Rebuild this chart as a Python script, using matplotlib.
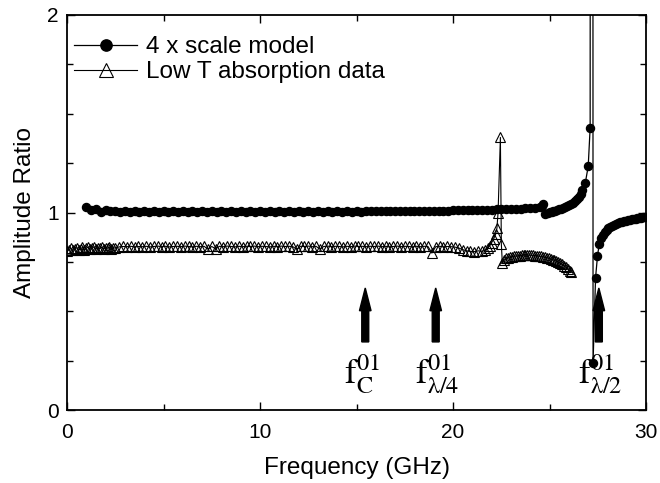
import matplotlib
matplotlib.use("Agg")
import matplotlib.pyplot as plt

plt.rcParams['font.family'] = ['Liberation Sans', 'DejaVu Sans']
plt.rcParams['mathtext.fontset'] = 'stix'

# ---------------- data ----------------
scale_freq = [1.0, 1.25, 1.5, 1.75, 2.0, 2.25, 2.5, 2.75, 3.0, 3.25, 3.5, 3.75, 4.0, 4.25, 4.5, 4.75,
              5.0, 5.25, 5.5, 5.75, 6.0, 6.25, 6.5, 6.75, 7.0, 7.25, 7.5, 7.75, 8.0, 8.25, 8.5, 8.75,
              9.0, 9.25, 9.5, 9.75, 10.0, 10.25, 10.5, 10.75, 11.0, 11.25, 11.5, 11.75, 12.0, 12.25,
              12.5, 12.75, 13.0, 13.25, 13.5, 13.75, 14.0, 14.25, 14.5, 14.75, 15.0, 15.25, 15.5, 15.75,
              16.0, 16.25, 16.5, 16.75, 17.0, 17.25, 17.5, 17.75, 18.0, 18.25, 18.5, 18.75, 19.0, 19.25,
              19.5, 19.75, 20.0, 20.25, 20.5, 20.75, 21.0, 21.25, 21.5, 21.75, 22.0, 22.25, 22.5, 22.75,
              23.0, 23.25, 23.5, 23.75, 24.0, 24.25, 24.5,
              24.6, 24.68, 24.78, 24.9, 25.0, 25.1, 25.2, 25.3, 25.4, 25.5, 25.6, 25.7, 25.8, 25.9, 26.0,
              26.1, 26.2, 26.3, 26.4, 26.5, 26.6, 26.7, 26.85, 27.0, 27.1, 27.17,
              27.25, 27.38, 27.48, 27.57, 27.65, 27.75, 27.85, 27.95, 28.05, 28.15, 28.25, 28.35, 28.45,
              28.55, 28.65, 28.75, 28.85, 28.95, 29.05, 29.15, 29.25, 29.35, 29.45, 29.55, 29.65, 29.75,
              29.85, 29.95]
scale_amp = [1.030, 1.012, 1.020, 1.002, 1.012, 1.006, 1.009, 1.004, 1.007, 1.005, 1.006, 1.004, 1.006,
             1.005, 1.007, 1.004, 1.006, 1.005, 1.006, 1.005, 1.007, 1.004, 1.006, 1.005, 1.006, 1.004,
             1.006, 1.005, 1.007, 1.005, 1.006, 1.004, 1.006, 1.005, 1.006, 1.005, 1.007, 1.005, 1.006,
             1.004, 1.006, 1.005, 1.007, 1.005, 1.006, 1.005, 1.006, 1.004, 1.006, 1.005, 1.007, 1.005,
             1.006, 1.005, 1.006, 1.005, 1.007, 1.005, 1.006, 1.006, 1.007, 1.006, 1.007, 1.006, 1.008,
             1.007, 1.008, 1.007, 1.008, 1.008, 1.009, 1.008, 1.009, 1.009, 1.010, 1.010, 1.011, 1.011,
             1.012, 1.012, 1.013, 1.013, 1.014, 1.014, 1.015, 1.016, 1.016, 1.017, 1.018, 1.019, 1.020,
             1.021, 1.022, 1.024, 1.027,
             1.032, 1.042, 0.990, 0.998, 1.002, 1.005, 1.008, 1.010, 1.013, 1.016, 1.019, 1.023, 1.027,
             1.031, 1.036, 1.041, 1.048, 1.056, 1.066, 1.078, 1.093, 1.112, 1.150, 1.235, 1.430, 30.0,
             0.240, 0.670, 0.780, 0.840, 0.870, 0.888, 0.902, 0.912, 0.920, 0.927, 0.933, 0.938, 0.942,
             0.946, 0.950, 0.953, 0.956, 0.959, 0.961, 0.963, 0.965, 0.967, 0.969, 0.971, 0.972, 0.974,
             0.975, 0.977]

lowt_freq = [0.0, 0.1, 0.2, 0.3, 0.4, 0.5, 0.6, 0.7, 0.8, 0.9, 1.0, 1.1, 1.2, 1.3, 1.4, 1.5, 1.6, 1.7,
             1.8, 1.9, 2.0, 2.1, 2.2, 2.3, 2.4, 2.5,
             2.7, 2.9, 3.1, 3.3, 3.5, 3.7, 3.9, 4.1, 4.3, 4.5, 4.7, 4.9, 5.1, 5.3, 5.5, 5.7, 5.9, 6.1,
             6.3, 6.5, 6.7, 6.9, 7.1, 7.3, 7.5, 7.7, 7.9, 8.1, 8.3, 8.5, 8.7, 8.9, 9.1, 9.3, 9.5, 9.7,
             9.9, 10.1, 10.3, 10.5, 10.7, 10.9, 11.1, 11.3, 11.5, 11.7, 11.9, 12.1, 12.3, 12.5, 12.7,
             12.9, 13.1, 13.3, 13.5, 13.7, 13.9, 14.1, 14.3, 14.5, 14.7, 14.9, 15.1, 15.3, 15.5, 15.7,
             15.9, 16.1, 16.3, 16.5, 16.7, 16.9, 17.1, 17.3, 17.5, 17.7, 17.9, 18.1, 18.3, 18.5, 18.7,
             18.9, 19.1, 19.3, 19.5, 19.7, 19.9, 20.1, 20.3, 20.5, 20.7, 20.9, 21.1,
             21.3, 21.5, 21.65, 21.8, 21.9, 22.0, 22.1, 22.2, 22.27, 22.33, 22.45, 22.5, 22.55,
             22.65, 22.75, 22.85, 22.95, 23.05, 23.15, 23.25, 23.35, 23.45, 23.55, 23.65, 23.75, 23.85,
             23.95, 24.05, 24.15, 24.25, 24.35, 24.45, 24.55, 24.65, 24.75, 24.85, 24.95, 25.05, 25.15,
             25.25, 25.35, 25.45, 25.55, 25.65, 25.75, 25.85, 25.95, 26.05, 26.12]
lowt_amp = [0.805, 0.812, 0.818, 0.808, 0.815, 0.822, 0.810, 0.817, 0.823, 0.812, 0.819, 0.825, 0.814,
            0.820, 0.826, 0.815, 0.821, 0.818, 0.824, 0.816, 0.822, 0.819, 0.825, 0.817, 0.822, 0.820,
            0.826, 0.828, 0.827, 0.829, 0.826, 0.828, 0.827, 0.829, 0.826, 0.828, 0.830, 0.827, 0.829,
            0.826, 0.828, 0.829, 0.827, 0.830, 0.828, 0.826, 0.829, 0.827, 0.829, 0.815, 0.828, 0.816,
            0.829, 0.827, 0.830, 0.828, 0.826, 0.829, 0.827, 0.829, 0.828, 0.830, 0.827, 0.829, 0.828,
            0.826, 0.829, 0.827, 0.830, 0.828, 0.829, 0.827, 0.814, 0.829, 0.828, 0.830, 0.827, 0.829,
            0.815, 0.828, 0.830, 0.827, 0.829, 0.828, 0.826, 0.829, 0.827, 0.830, 0.828, 0.829, 0.827,
            0.829, 0.828, 0.830, 0.827, 0.829, 0.826, 0.828, 0.830, 0.827, 0.829, 0.828, 0.826, 0.829,
            0.827, 0.829, 0.828, 0.795, 0.827, 0.829, 0.826, 0.828, 0.827, 0.825, 0.820, 0.812, 0.806,
            0.803, 0.802,
            0.806, 0.804, 0.808, 0.820, 0.832, 0.848, 0.866, 0.890, 0.920, 1.000, 1.380, 0.840, 0.745,
            0.760, 0.768, 0.772, 0.775, 0.777, 0.779, 0.780, 0.781, 0.782, 0.783, 0.784, 0.784, 0.785,
            0.785, 0.784, 0.783, 0.782, 0.781, 0.780, 0.778, 0.776, 0.774, 0.772, 0.769, 0.766, 0.762,
            0.758, 0.754, 0.749, 0.743, 0.737, 0.730, 0.722, 0.714, 0.705, 0.700]

arrow_freq = [15.45, 19.1, 27.55]
arrow_labels = [r'$\mathrm{f}_{\mathrm{C}}^{01}$', r'$\mathrm{f}_{\mathrm{λ/4}}^{01}$',
                r'$\mathrm{f}_{\mathrm{λ/2}}^{01}$']

# ---------------- figure ----------------
fig = plt.figure(figsize=(6.6, 4.83), dpi=100)
ax = fig.add_axes([0.1015, 0.151, 0.8775, 0.818])

ax.plot(scale_freq, scale_amp, '-', color='black', lw=0.9, marker='o', ms=5.8,
        mfc='black', mec='black', label='4 x scale model', zorder=3)
ax.plot(lowt_freq, lowt_amp, '-', color='black', lw=0.8, marker='^', ms=7.2,
        mfc='none', mec='black', mew=0.8, label='Low T absorption data', zorder=2)

for fx, lab in zip(arrow_freq, arrow_labels):
    ax.arrow(fx, 0.345, 0, 0.273, width=0.36, head_width=0.6, head_length=0.115,
             length_includes_head=True, color='black', zorder=4)
    ax.annotate(lab, xy=(fx, 0.29), xytext=(-15, 0), textcoords='offset points',
                ha='left', va='top', fontsize=25, color='black')

ax.set_xlim(0, 30)
ax.set_ylim(0, 2)
ax.set_xticks([0, 10, 20, 30])
ax.set_xticks([5, 15, 25], minor=True)
ax.set_yticks([0, 1, 2])
ax.set_yticks([0.25, 0.5, 0.75, 1.25, 1.5, 1.75], minor=True)
ax.tick_params(which='both', direction='in', top=True, right=True, labelsize=15, width=1.0)
ax.tick_params(which='major', length=6)
ax.tick_params(which='minor', length=4)
ax.tick_params(axis='x', pad=9)
ax.tick_params(axis='y', pad=6)
for sp in ax.spines.values():
    sp.set_linewidth(1.3)

ax.set_xlabel('Frequency (GHz)', fontsize=17.5, labelpad=11)
ax.set_ylabel('Amplitude Ratio', fontsize=17.5, labelpad=8)

leg = ax.legend(loc='upper left', frameon=False, fontsize=17.5, handlelength=2.6,
                handletextpad=0.35, borderaxespad=0.1, labelspacing=0.12, markerscale=1.4,
                bbox_to_anchor=(0.0, 0.965), borderpad=0.2)

fig.savefig('out.png', dpi=100)
